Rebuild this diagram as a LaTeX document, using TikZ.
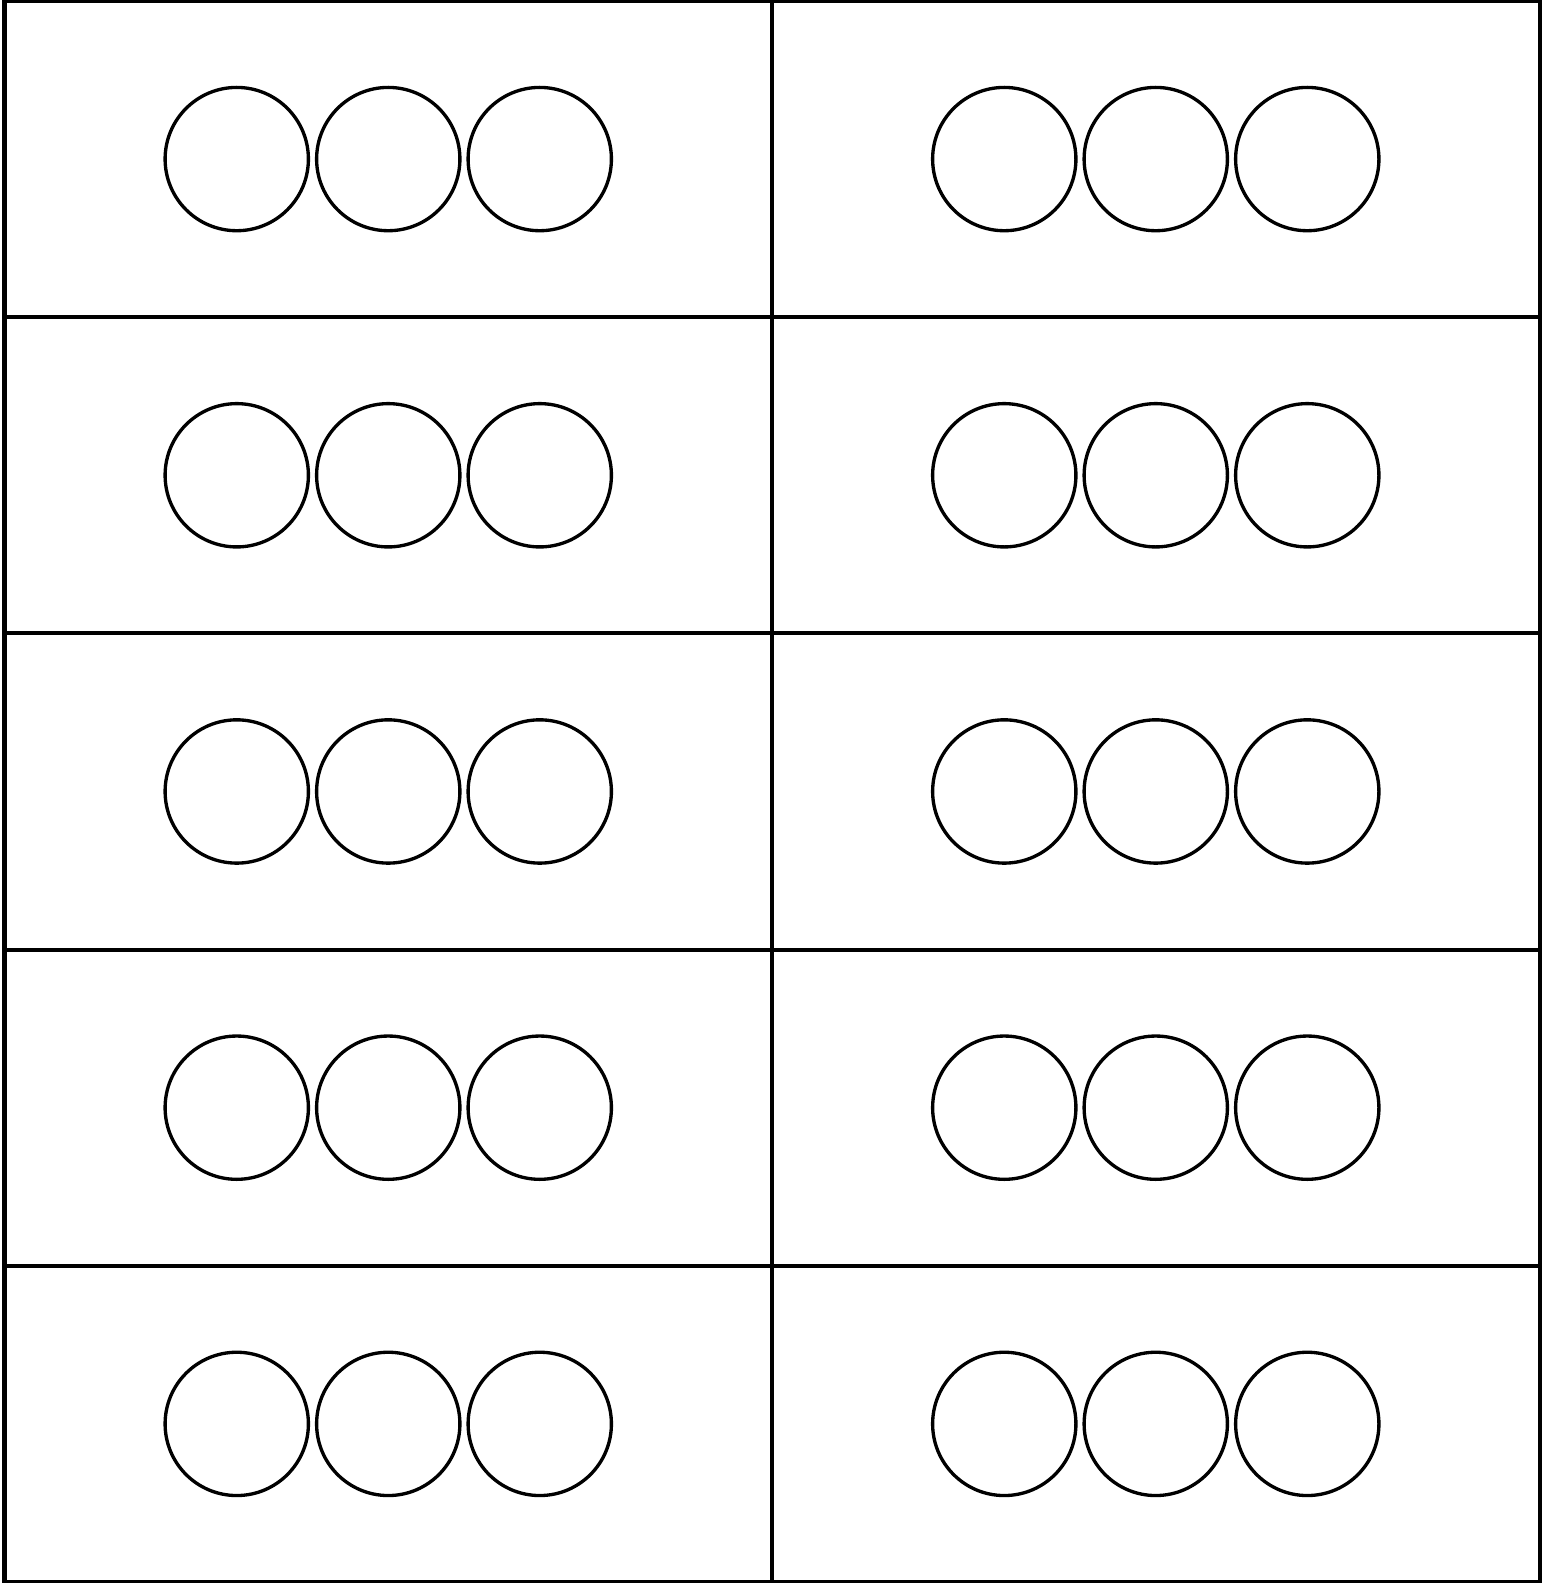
\documentclass[tikz,border=0pt]{standalone}
\usepackage{tikz}
\usetikzlibrary{positioning}

\begin{document}
\begin{tikzpicture}[
        cell/.style={draw=black, line width=1.15pt, rectangle, inner sep=0pt,
            minimum width=7.675cm, minimum height=3.162cm},
        dot/.style={draw=black, line width=0.95pt, circle, inner sep=0pt,
            minimum size=1.433cm}
    ]
        \useasboundingbox (0,0) rectangle (15.43,15.83);

        % ten cells, three circles each
        \foreach \r in {1,...,5} {
            \foreach \c in {1,2} {
                \node[cell] (cell-\r-\c) at ({3.8825+7.675*(\c-1)}, {15.82-3.162*(\r-0.5)}) {};
                \node[dot] (dot-\r-\c-b) at (cell-\r-\c.center) {};
                \node[dot, xshift=-1.515cm] (dot-\r-\c-a) at (cell-\r-\c.center) {};
                \node[dot, xshift=1.515cm] (dot-\r-\c-c) at (cell-\r-\c.center) {};
            }
        }
    \end{tikzpicture}
\end{document}
